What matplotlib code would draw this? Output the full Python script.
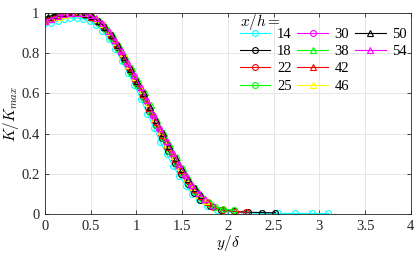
import matplotlib
matplotlib.use("Agg")
import matplotlib.pyplot as plt
from matplotlib.lines import Line2D

plt.rcParams['font.family'] = 'Liberation Serif'
plt.rcParams['mathtext.fontset'] = 'cm'

# x/h stations and profiles of K/Kmax against y/delta
labels = ['14', '18', '22', '25', '30', '38', '42', '46', '50', '54']
colors = ['#00ffff', 'k', 'r', '#00ff00', '#ff00ff', '#00ff00', 'r', '#ffff00', 'k', '#ff00ff']
markers = ['o', 'o', 'o', 'o', 'o', '^', '^', '^', '^', '^']

y14 = [0.00, 0.07, 0.14, 0.21, 0.28, 0.35, 0.42, 0.49, 0.56, 0.63, 0.70, 0.77, 0.84, 0.91, 0.98, 1.05,
       1.12, 1.19, 1.26, 1.33, 1.40, 1.47, 1.54, 1.61, 1.68, 1.77, 1.88, 2.02, 2.18, 2.36, 2.55, 2.73, 2.92, 3.10]
k14 = [0.95, 0.95, 0.96, 0.97, 0.975, 0.975, 0.97, 0.96, 0.94, 0.91, 0.87, 0.82, 0.76, 0.70, 0.64, 0.57,
       0.50, 0.43, 0.36, 0.30, 0.24, 0.19, 0.14, 0.10, 0.07, 0.04, 0.02, 0.01, 0.006, 0.004, 0.003, 0.003, 0.003, 0.003]

y18 = [0.02, 0.09, 0.16, 0.23, 0.30, 0.37, 0.44, 0.51, 0.58, 0.65, 0.72, 0.79, 0.86, 0.93, 1.00, 1.07,
       1.14, 1.21, 1.28, 1.35, 1.42, 1.49, 1.56, 1.63, 1.70, 1.80, 1.93, 2.07, 2.22, 2.37, 2.52]
k18 = [0.97, 0.98, 0.99, 0.995, 1.0, 1.0, 0.99, 0.98, 0.955, 0.925, 0.885, 0.83, 0.77, 0.71, 0.65, 0.585,
       0.515, 0.445, 0.38, 0.315, 0.255, 0.20, 0.15, 0.105, 0.07, 0.04, 0.022, 0.013, 0.009, 0.007, 0.006]

y22 = [0.01, 0.08, 0.15, 0.22, 0.29, 0.36, 0.43, 0.50, 0.57, 0.64, 0.71, 0.78, 0.85, 0.92, 0.99, 1.06,
       1.13, 1.20, 1.27, 1.34, 1.41, 1.48, 1.55, 1.62, 1.69, 1.76, 1.84, 1.95, 2.08, 2.20]
k22 = [0.96, 0.97, 0.98, 0.99, 1.0, 1.0, 0.995, 0.985, 0.96, 0.935, 0.895, 0.845, 0.785, 0.725, 0.665, 0.60,
       0.535, 0.465, 0.40, 0.335, 0.275, 0.22, 0.17, 0.125, 0.09, 0.06, 0.035, 0.02, 0.012, 0.008]

y25 = [0.03, 0.10, 0.17, 0.24, 0.31, 0.38, 0.45, 0.52, 0.59, 0.66, 0.73, 0.80, 0.87, 0.94, 1.01, 1.08,
       1.15, 1.22, 1.29, 1.36, 1.43, 1.50, 1.57, 1.64, 1.71, 1.78, 1.86, 1.95, 2.07]
k25 = [0.97, 0.98, 0.99, 1.0, 1.0, 1.0, 0.99, 0.975, 0.95, 0.92, 0.875, 0.82, 0.76, 0.70, 0.64, 0.575,
       0.51, 0.445, 0.38, 0.315, 0.26, 0.205, 0.155, 0.115, 0.08, 0.055, 0.035, 0.025, 0.018]

y30 = [0.00, 0.06, 0.13, 0.20, 0.27, 0.34, 0.41, 0.48, 0.55, 0.62, 0.69, 0.76, 0.83, 0.90, 0.97, 1.04,
       1.11, 1.18, 1.25, 1.32, 1.39, 1.46, 1.53, 1.60, 1.67, 1.75, 1.83]
k30 = [0.96, 0.97, 0.98, 0.99, 1.0, 1.0, 1.0, 0.99, 0.97, 0.945, 0.905, 0.86, 0.80, 0.745, 0.685, 0.625,
       0.56, 0.49, 0.425, 0.36, 0.30, 0.24, 0.19, 0.14, 0.10, 0.065, 0.04]

y38 = [0.04, 0.11, 0.18, 0.25, 0.32, 0.39, 0.46, 0.53, 0.60, 0.67, 0.74, 0.81, 0.88, 0.95, 1.02, 1.09,
       1.16, 1.23, 1.30, 1.37, 1.44, 1.51, 1.58, 1.65, 1.72, 1.80]
k38 = [0.98, 0.99, 1.0, 1.0, 1.0, 1.0, 0.995, 0.98, 0.96, 0.93, 0.89, 0.84, 0.785, 0.725, 0.665, 0.605,
       0.54, 0.47, 0.405, 0.345, 0.285, 0.23, 0.175, 0.13, 0.09, 0.06]

y42 = [0.02, 0.09, 0.16, 0.23, 0.30, 0.37, 0.44, 0.51, 0.58, 0.65, 0.72, 0.79, 0.86, 0.93, 1.00, 1.07,
       1.14, 1.21, 1.28, 1.35, 1.42, 1.49, 1.56, 1.63, 1.70, 1.78]
k42 = [0.97, 0.98, 0.99, 1.0, 1.0, 1.0, 0.995, 0.98, 0.96, 0.93, 0.89, 0.84, 0.78, 0.72, 0.66, 0.595,
       0.53, 0.46, 0.395, 0.335, 0.275, 0.22, 0.17, 0.125, 0.09, 0.06]

y46 = [0.01, 0.08, 0.15, 0.22, 0.29, 0.36, 0.43, 0.50, 0.57, 0.64, 0.71, 0.78, 0.85, 0.92, 0.99, 1.06,
       1.13, 1.20, 1.27, 1.34, 1.41, 1.48, 1.55, 1.62, 1.69, 1.76]
k46 = [0.96, 0.97, 0.98, 0.99, 1.0, 1.0, 1.0, 0.99, 0.97, 0.945, 0.905, 0.855, 0.80, 0.74, 0.68, 0.615,
       0.55, 0.48, 0.415, 0.35, 0.29, 0.235, 0.18, 0.135, 0.095, 0.065]

y50 = [0.03, 0.10, 0.17, 0.24, 0.31, 0.38, 0.45, 0.52, 0.59, 0.66, 0.73, 0.80, 0.87, 0.94, 1.01, 1.08,
       1.15, 1.22, 1.29, 1.36, 1.43, 1.50, 1.57, 1.64, 1.71]
k50 = [0.98, 0.99, 1.0, 1.0, 1.0, 1.0, 0.995, 0.985, 0.96, 0.93, 0.89, 0.84, 0.78, 0.72, 0.66, 0.60,
       0.535, 0.47, 0.405, 0.34, 0.28, 0.225, 0.175, 0.13, 0.095]

y54 = [0.00, 0.07, 0.14, 0.21, 0.28, 0.35, 0.42, 0.49, 0.56, 0.63, 0.70, 0.77, 0.84, 0.91, 0.98, 1.05,
       1.12, 1.19, 1.26, 1.33, 1.40, 1.47, 1.54, 1.61, 1.68, 1.75]
k54 = [0.96, 0.97, 0.985, 0.995, 1.0, 1.0, 1.0, 0.99, 0.975, 0.95, 0.91, 0.865, 0.81, 0.75, 0.69, 0.63,
       0.565, 0.495, 0.43, 0.365, 0.305, 0.25, 0.195, 0.145, 0.105, 0.075]

ys = [y14, y18, y22, y25, y30, y38, y42, y46, y50, y54]
ks = [k14, k18, k22, k25, k30, k38, k42, k46, k50, k54]

fig = plt.figure(figsize=(4.15, 2.56), dpi=100)
ax = fig.add_axes([0.108, 0.164, 0.882, 0.785])

handles = []
for yy, kk, c, m, lab in zip(ys, ks, colors, markers, labels):
    h, = ax.plot(yy, kk, color=c, marker=m, markersize=4.2, markerfacecolor='none',
                 markeredgewidth=0.8, linewidth=0.8, label=lab)
    handles.append(h)

# two blank slots so the columns split 4 / 4 / 2
blank = [Line2D([], [], linestyle='none', marker=None) for _ in range(2)]
leg = ax.legend(handles + blank, labels + ['', ''], ncol=3, loc='upper right',
                bbox_to_anchor=(1.005, 1.035), frameon=False, fontsize=10.5,
                title='$x/h=$', title_fontsize=11, alignment='left',
                handlelength=2.1, handletextpad=0.45, columnspacing=0.4,
                labelspacing=0.28, borderaxespad=0.2, borderpad=0.2)
leg._legend_box.sep = -3

ax.set_xlim(0, 4)
ax.set_ylim(0, 1)
ax.set_xticks([0, 0.5, 1, 1.5, 2, 2.5, 3, 3.5, 4])
ax.set_xticklabels(['0', '0.5', '1', '1.5', '2', '2.5', '3', '3.5', '4'])
ax.set_yticks([0, 0.2, 0.4, 0.6, 0.8, 1])
ax.set_yticklabels(['0', '0.2', '0.4', '0.6', '0.8', '1'])
ax.grid(True, color='#e3e3e3', linewidth=0.6)
ax.set_axisbelow(True)
ax.tick_params(direction='in', length=3, width=0.6, labelsize=10.5, colors='#262626',
               right=True, top=True, pad=4)
for sp in ax.spines.values():
    sp.set_color('#262626')
    sp.set_linewidth(0.6)
ax.set_xlabel('$y/\\delta$', fontsize=11, labelpad=0)
ax.set_ylabel('$K/K_{max}$', fontsize=11, labelpad=0)

fig.savefig('out.png', dpi=100)
